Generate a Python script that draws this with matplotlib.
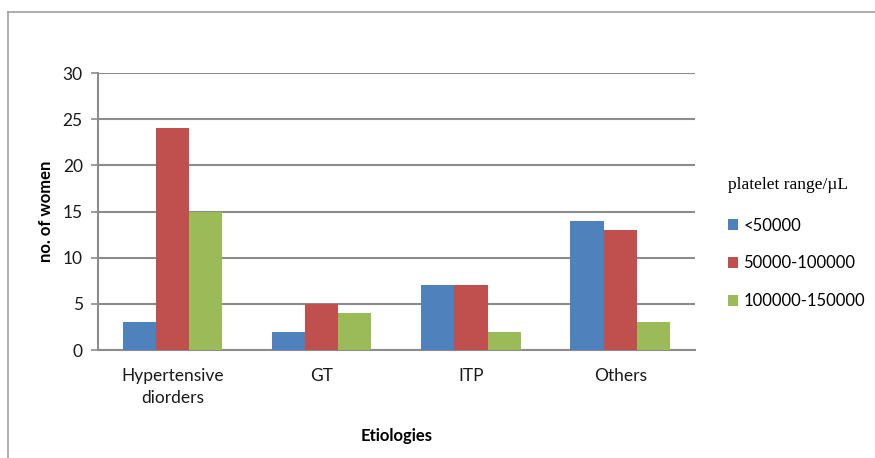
import matplotlib.pyplot as plt
import numpy as np
from matplotlib.lines import Line2D

# data
etiologies = ['Hypertensive\ndiorders', 'GT', 'ITP', 'Others']
below_50k = [3, 2, 7, 14]
from_50k_100k = [24, 5, 7, 13]
from_100k_150k = [15, 4, 2, 3]
series_names = ['<50000', '50000-100000', '100000-150000']
colors = ['#4F81BD', '#C0504D', '#9BBB59']

plt.rcParams['font.family'] = ['Lato', 'DejaVu Sans']

fig = plt.figure(figsize=(8.75, 4.58), dpi=100)
ax = fig.add_axes([0.112, 0.2358, 0.682, 0.6048])

x = np.arange(len(etiologies))
w = 0.222
for i, vals in enumerate([below_50k, from_50k_100k, from_100k_150k]):
    ax.bar(x + (i - 1) * w, vals, width=w, color=colors[i], label=series_names[i], zorder=3)

ax.set_xlim(-0.5, 3.5)
ax.set_ylim(0, 30)
ax.set_yticks(range(0, 31, 5))
ax.yaxis.grid(True, color='#8c8c8c', linewidth=1.5, zorder=0)
ax.set_xticks(x)
ax.set_xticklabels(etiologies, fontsize=12.5, color='#1a1a1a', linespacing=1.45)
ax.tick_params(axis='x', length=0, pad=13)
ax.tick_params(axis='y', length=5, color='#8c8c8c', width=1.2, labelsize=12.5, labelcolor='#1a1a1a', pad=6)

for s in ['top', 'right']:
    ax.spines[s].set_visible(False)
ax.spines['left'].set_color('#8c8c8c')
ax.spines['left'].set_linewidth(1.5)
ax.spines['bottom'].set_color('#8c8c8c')
ax.spines['bottom'].set_linewidth(1.5)

ax.set_ylabel('no. of women', fontsize=12, fontweight='bold', labelpad=6)
ax.set_xlabel('Etiologies', fontsize=12, fontweight='bold', labelpad=16)

leg = ax.legend(title='platelet range/\u00b5L', loc='upper left', bbox_to_anchor=(1.03, 0.68),
                frameon=False, fontsize=12, handlelength=0.65, handleheight=0.65,
                handletextpad=0.3, labelspacing=1.3, alignment='left')
leg.get_title().set_fontfamily('Liberation Serif')
leg.get_title().set_fontsize(12.5)
leg._legend_box.sep = 18

# outer frame (only left and top edges visible)
fig.add_artist(Line2D([8 / 875, 8 / 875], [0, 1 - 12 / 458], transform=fig.transFigure,
                      color='#a0a0a0', linewidth=1.2))
fig.add_artist(Line2D([8 / 875, 1], [1 - 12 / 458, 1 - 12 / 458], transform=fig.transFigure,
                      color='#a0a0a0', linewidth=1.2))

fig.savefig('out.png', dpi=100)
